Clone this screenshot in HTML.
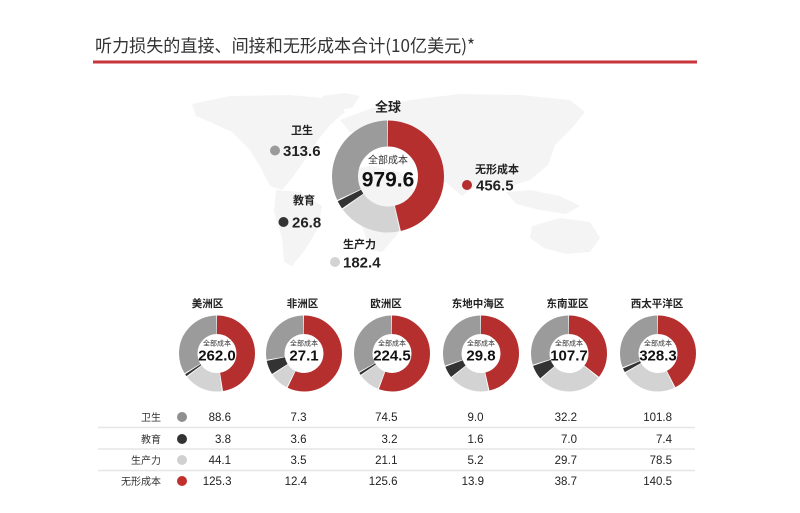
<!DOCTYPE html>
<html>
<head>
<meta charset="utf-8">
<style>
html,body{margin:0;padding:0;background:#fff;}
svg{display:block;}
text{font-family:"Liberation Sans","Noto Sans CJK SC",sans-serif;fill:#222;}
.cjk{font-family:"Noto Sans CJK SC","Liberation Sans",sans-serif;}
.num{font-weight:bold;}
.lbl{font-size:11px;font-weight:600;}
.rt{font-size:10.5px;font-weight:600;text-anchor:middle;}
.cc{font-size:7px;text-anchor:middle;fill:#333;}
.cv{font-size:15px;font-weight:bold;text-anchor:middle;fill:#111;}
.tl{font-size:10px;text-anchor:end;fill:#333;}
.tv{font-size:11.5px;text-anchor:end;fill:#222;}
</style>
</head>
<body>
<svg width="800" height="513" viewBox="0 0 800 513" xmlns="http://www.w3.org/2000/svg">
<rect width="800" height="513" fill="#fff"/>

<!-- Title -->
<text class="cjk" x="95" y="52" font-size="17.5" fill="#333" textLength="380" lengthAdjust="spacingAndGlyphs" style="fill:#333">听力损失的直接、间接和无形成本合计(10亿美元)*</text>
<rect x="93" y="60.5" width="604" height="3" fill="#c9343b"/>

<!-- faint world map -->
<g fill="#f4f4f4">
  <path d="M192,104 L230,96 L290,95 L335,99 L345,112 L330,125 L318,140 L305,160 L292,178 L282,190 L270,186 L262,170 L250,150 L232,132 L210,122 L196,116 Z"/>
  <path d="M322,96 L345,93 L360,96 L352,108 L336,110 Z"/>
  <path d="M276,190 L300,192 L322,206 L318,228 L305,250 L292,266 L284,262 L282,238 L274,212 Z"/>
  <path d="M338,172 L370,166 L400,172 L414,190 L408,212 L396,236 L382,252 L370,250 L362,226 L350,204 L338,192 Z"/>
  <path d="M340,120 L372,108 L410,100 L460,94 L520,95 L570,100 L585,112 L572,128 L555,145 L548,165 L530,180 L505,188 L480,182 L462,196 L448,184 L430,172 L412,160 L398,140 L370,135 L350,132 Z"/>
  <path d="M506,192 L530,190 L560,196 L580,206 L566,214 L540,210 L516,204 Z"/>
  <path d="M532,226 L560,218 L590,222 L600,238 L590,252 L566,254 L544,248 L530,238 Z"/>
</g>

<!-- Global donut -->
<g transform="rotate(-90 388 176.5)" fill="none" stroke-width="26">
  <circle cx="388" cy="176.5" r="43" stroke="#b42f2e" stroke-dasharray="124.9 400" stroke-dashoffset="0"/>
  <circle cx="388" cy="176.5" r="43" stroke="#d3d3d3" stroke-dasharray="49.3 400" stroke-dashoffset="-125.94"/>
  <circle cx="388" cy="176.5" r="43" stroke="#333333" stroke-dasharray="6.4 400" stroke-dashoffset="-176.26"/>
  <circle cx="388" cy="176.5" r="43" stroke="#9b9b9b" stroke-dasharray="85.5 400" stroke-dashoffset="-183.65"/>
</g>
<text class="cjk" x="388" y="163.5" font-size="10" text-anchor="middle" style="fill:#333">全部成本</text>
<text class="num" x="388" y="186.5" font-size="21" text-anchor="middle" style="fill:#111">979.6</text>
<text class="cjk" x="388" y="111.5" font-size="13" font-weight="bold" text-anchor="middle">全球</text>

<!-- global labels -->
<text class="cjk lbl" x="291" y="134">卫生</text>
<circle cx="275" cy="150.5" r="5" fill="#9b9b9b"/>
<text class="num" x="283" y="156" font-size="15">313.6</text>

<text class="cjk lbl" x="293" y="204">教育</text>
<circle cx="283.5" cy="222" r="5" fill="#333"/>
<text class="num" x="292" y="227.5" font-size="15">26.8</text>

<text class="cjk lbl" x="343" y="248">生产力</text>
<circle cx="335" cy="262" r="5" fill="#d3d3d3"/>
<text class="num" x="343" y="267.5" font-size="15">182.4</text>

<text class="cjk lbl" x="475" y="173">无形成本</text>
<circle cx="467" cy="185" r="5" fill="#b42f2e"/>
<text class="num" x="476" y="190.5" font-size="15">456.5</text>

<!-- Region titles -->
<text class="cjk rt" x="207.5" y="307">美洲区</text>
<text class="cjk rt" x="302.5" y="307">非洲区</text>
<text class="cjk rt" x="386" y="307">欧洲区</text>
<text class="cjk rt" x="478" y="307">东地中海区</text>
<text class="cjk rt" x="567.5" y="307">东南亚区</text>
<text class="cjk rt" x="657" y="307">西太平洋区</text>

<!-- Small donuts -->
<g fill="none" stroke-width="18.5">
  <g transform="rotate(-90 217 353.5)">
    <circle cx="217" cy="353.5" r="28.75" stroke="#b42f2e" stroke-dasharray="85.6 300" stroke-dashoffset="0"/>
    <circle cx="217" cy="353.5" r="28.75" stroke="#d3d3d3" stroke-dasharray="29.6 300" stroke-dashoffset="-86.46"/>
    <circle cx="217" cy="353.5" r="28.75" stroke="#333" stroke-dasharray="1.8 300" stroke-dashoffset="-116.89"/>
    <circle cx="217" cy="353.5" r="28.75" stroke="#9b9b9b" stroke-dasharray="60.3 300" stroke-dashoffset="-119.51"/>
  </g>
  <g transform="rotate(-90 304 353.5)">
    <circle cx="304" cy="353.5" r="28.75" stroke="#b42f2e" stroke-dasharray="103 300" stroke-dashoffset="0"/>
    <circle cx="304" cy="353.5" r="28.75" stroke="#d3d3d3" stroke-dasharray="14.2 300" stroke-dashoffset="-103.87"/>
    <circle cx="304" cy="353.5" r="28.75" stroke="#333" stroke-dasharray="10.7 300" stroke-dashoffset="-118.92"/>
    <circle cx="304" cy="353.5" r="28.75" stroke="#9b9b9b" stroke-dasharray="49.3 300" stroke-dashoffset="-130.46"/>
  </g>
  <g transform="rotate(-90 392 353.5)">
    <circle cx="392" cy="353.5" r="28.75" stroke="#b42f2e" stroke-dasharray="100.3 300" stroke-dashoffset="0"/>
    <circle cx="392" cy="353.5" r="28.75" stroke="#d3d3d3" stroke-dasharray="16.2 300" stroke-dashoffset="-101.11"/>
    <circle cx="392" cy="353.5" r="28.75" stroke="#333" stroke-dasharray="1.8 300" stroke-dashoffset="-118.10"/>
    <circle cx="392" cy="353.5" r="28.75" stroke="#9b9b9b" stroke-dasharray="59.1 300" stroke-dashoffset="-120.68"/>
  </g>
  <g transform="rotate(-90 481 353.5)">
    <circle cx="481" cy="353.5" r="28.75" stroke="#b42f2e" stroke-dasharray="83.7 300" stroke-dashoffset="0"/>
    <circle cx="481" cy="353.5" r="28.75" stroke="#d3d3d3" stroke-dasharray="30.8 300" stroke-dashoffset="-84.54"/>
    <circle cx="481" cy="353.5" r="28.75" stroke="#333" stroke-dasharray="8.9 300" stroke-dashoffset="-116.17"/>
    <circle cx="481" cy="353.5" r="28.75" stroke="#9b9b9b" stroke-dasharray="53.9 300" stroke-dashoffset="-125.90"/>
  </g>
  <g transform="rotate(-90 569 353.5)">
    <circle cx="569" cy="353.5" r="28.75" stroke="#b42f2e" stroke-dasharray="64.1 300" stroke-dashoffset="0"/>
    <circle cx="569" cy="353.5" r="28.75" stroke="#d3d3d3" stroke-dasharray="49 300" stroke-dashoffset="-64.97"/>
    <circle cx="569" cy="353.5" r="28.75" stroke="#333" stroke-dasharray="10.9 300" stroke-dashoffset="-114.83"/>
    <circle cx="569" cy="353.5" r="28.75" stroke="#9b9b9b" stroke-dasharray="53.2 300" stroke-dashoffset="-126.58"/>
  </g>
  <g transform="rotate(-90 658 353.5)">
    <circle cx="658" cy="353.5" r="28.75" stroke="#b42f2e" stroke-dasharray="76.5 300" stroke-dashoffset="0"/>
    <circle cx="658" cy="353.5" r="28.75" stroke="#d3d3d3" stroke-dasharray="42.4 300" stroke-dashoffset="-77.33"/>
    <circle cx="658" cy="353.5" r="28.75" stroke="#333" stroke-dasharray="3.2 300" stroke-dashoffset="-120.54"/>
    <circle cx="658" cy="353.5" r="28.75" stroke="#9b9b9b" stroke-dasharray="55.2 300" stroke-dashoffset="-124.61"/>
  </g>
</g>

<!-- donut centre texts -->
<g>
  <text class="cjk cc" x="217" y="345.5">全部成本</text><text class="cv" x="217" y="360.5">262.0</text>
  <text class="cjk cc" x="304" y="345.5">全部成本</text><text class="cv" x="304" y="360.5">27.1</text>
  <text class="cjk cc" x="392" y="345.5">全部成本</text><text class="cv" x="392" y="360.5">224.5</text>
  <text class="cjk cc" x="481" y="345.5">全部成本</text><text class="cv" x="481" y="360.5">29.8</text>
  <text class="cjk cc" x="569" y="345.5">全部成本</text><text class="cv" x="569" y="360.5">107.7</text>
  <text class="cjk cc" x="658" y="345.5">全部成本</text><text class="cv" x="658" y="360.5">328.3</text>
</g>

<!-- Table -->
<g stroke="#e6e6e6" stroke-width="1.5">
  <line x1="98" y1="427.5" x2="695" y2="427.5"/>
  <line x1="98" y1="449" x2="695" y2="449"/>
  <line x1="98" y1="470.5" x2="695" y2="470.5"/>
</g>

<text class="cjk tl" x="161" y="421">卫生</text>
<text class="cjk tl" x="161" y="443">教育</text>
<text class="cjk tl" x="161" y="464">生产力</text>
<text class="cjk tl" x="161" y="485">无形成本</text>

<circle cx="182" cy="417" r="5" fill="#8f8f8f"/>
<circle cx="182" cy="439" r="5" fill="#333"/>
<circle cx="182" cy="460" r="5" fill="#d0d0d0"/>
<circle cx="182" cy="481" r="5" fill="#c0302c"/>

<g>
  <text class="tv" x="231" y="421">88.6</text>
  <text class="tv" x="231" y="443">3.8</text>
  <text class="tv" x="231" y="464">44.1</text>
  <text class="tv" x="231.5" y="485">125.3</text>

  <text class="tv" x="306.5" y="421">7.3</text>
  <text class="tv" x="306.5" y="443">3.6</text>
  <text class="tv" x="306.5" y="464">3.5</text>
  <text class="tv" x="307" y="485">12.4</text>

  <text class="tv" x="397.5" y="421">74.5</text>
  <text class="tv" x="397.5" y="443">3.2</text>
  <text class="tv" x="397.5" y="464">21.1</text>
  <text class="tv" x="397.5" y="485">125.6</text>

  <text class="tv" x="483.5" y="421">9.0</text>
  <text class="tv" x="483.5" y="443">1.6</text>
  <text class="tv" x="483.5" y="464">5.2</text>
  <text class="tv" x="484" y="485">13.9</text>

  <text class="tv" x="577" y="421">32.2</text>
  <text class="tv" x="577" y="443">7.0</text>
  <text class="tv" x="577" y="464">29.7</text>
  <text class="tv" x="577" y="485">38.7</text>

  <text class="tv" x="672" y="421">101.8</text>
  <text class="tv" x="672" y="443">7.4</text>
  <text class="tv" x="672" y="464">78.5</text>
  <text class="tv" x="672" y="485">140.5</text>
</g>
</svg>
</body>
</html>
